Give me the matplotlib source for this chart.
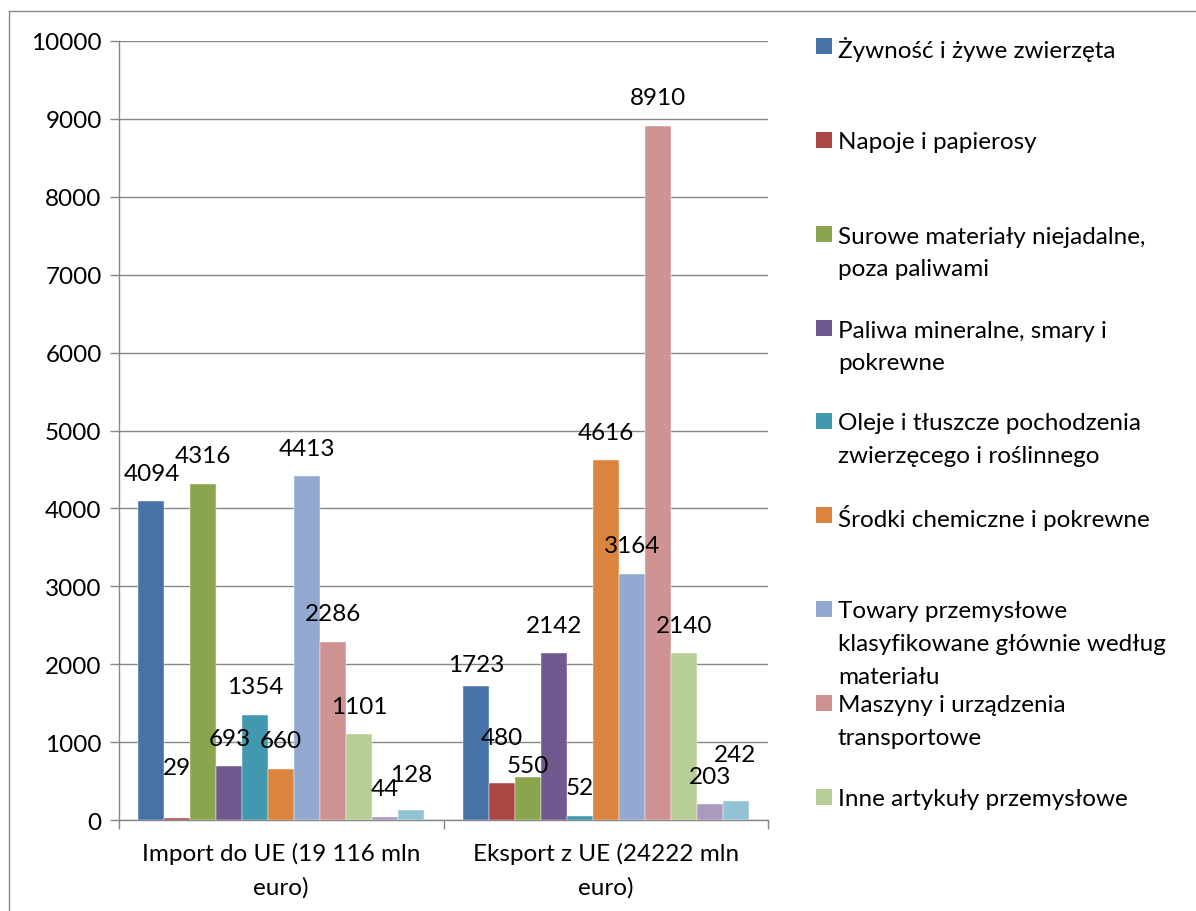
import matplotlib
matplotlib.use("Agg")
import matplotlib.pyplot as plt
from matplotlib.lines import Line2D
from matplotlib.patches import Rectangle
import numpy as np

plt.rcParams['font.family'] = ['Lato', 'DejaVu Sans']

categories = ["Import do UE (19 116 mln\neuro)", "Eksport z UE (24222 mln\neuro)"]
series_names = [
    "Żywność i żywe zwierzęta",
    "Napoje i papierosy",
    "Surowe materiały niejadalne,\npoza paliwami",
    "Paliwa mineralne, smary i\npokrewne",
    "Oleje i tłuszcze pochodzenia\nzwierzęcego i roślinnego",
    "Środki chemiczne i pokrewne",
    "Towary przemysłowe\nklasyfikowane głównie według\nmateriału",
    "Maszyny i urządzenia\ntransportowe",
    "Inne artykuły przemysłowe",
    "Towary i transakcje niesklasyfikowane",
    "Pozostałe",
]
import_values = [4094, 29, 4316, 693, 1354, 660, 4413, 2286, 1101, 44, 128]
export_values = [1723, 480, 550, 2142, 52, 4616, 3164, 8910, 2140, 203, 242]
y_ticks = [0, 1000, 2000, 3000, 4000, 5000, 6000, 7000, 8000, 9000, 10000]

colors = ["#4672A8", "#AA4744", "#89A54E", "#71588F", "#4198AF", "#DB843D",
          "#93A9D0", "#D09393", "#B9CD97", "#A99BBE", "#92C3D5"]

FS = 17.5
W, H = 1196, 912
fig = plt.figure(figsize=(W / 100, H / 100), dpi=100)

def fx(px):
    return px / W

def fy(py):
    return 1 - py / H

# outer chart border (clipped at right/bottom)
border_col = "#8a8a8a"
fig.add_artist(Line2D([fx(9), fx(9)], [fy(12), 0], color=border_col, lw=1.0))
fig.add_artist(Line2D([fx(9), 1], [fy(12), fy(12)], color=border_col, lw=1.0))

ax = fig.add_axes([fx(119), fy(821), fx(768) - fx(119), fy(42) - fy(821)])

n = len(series_names)
bw = 1.0 / (n + 1.5)
values = [import_values, export_values]
centers = np.array([0.5, 1.5])

# label nudges (pixels) for overlapping labels: (group, series) -> extra offset
nudges = {(0, 1): 22, (0, 10): 8, (1, 0): -7, (1, 1): 17, (1, 2): -16, (1, 10): 19}

for s in range(n):
    vals = [values[g][s] for g in range(2)]
    xs = centers + (s - (n - 1) / 2) * bw
    ax.bar(xs, vals, width=bw, color=colors[s], edgecolor="white", linewidth=0.3, zorder=3)
    for g in range(2):
        off = 28 + nudges.get((g, s), 0)
        ax.annotate(str(vals[g]), (xs[g], vals[g]), xytext=(0, off),
                    textcoords="offset pixels", ha="center", va="center",
                    fontsize=FS, color="black", zorder=5)

ax.set_xlim(0, 2)
ax.set_ylim(0, 10000)
ax.set_yticks(y_ticks)
ax.set_yticklabels([str(t) for t in y_ticks])
ax.set_xticks([0, 1, 2])
ax.set_xticklabels([])
ax.set_xticks(centers, minor=True)
ax.set_xticklabels(categories, minor=True, fontsize=FS, linespacing=1.68)
ax.tick_params(axis="x", which="minor", length=0, pad=16)
ax.tick_params(axis="x", which="major", length=6.5, width=1.0, color="#868686", direction="out")
ax.tick_params(axis="y", length=6.5, width=1.0, color="#868686", labelsize=FS, pad=6)

ax.grid(axis="y", color="#868686", linewidth=1.0, zorder=0)
for sp in ["top", "right"]:
    ax.spines[sp].set_visible(False)
for sp in ["left", "bottom"]:
    ax.spines[sp].set_color("#868686")
    ax.spines[sp].set_linewidth(1.0)

# legend drawn manually (only visible entries)
leg_y = [47, 141, 235, 329, 422, 516, 610, 704, 798]
for i, yc in enumerate(leg_y):
    fig.add_artist(Rectangle((fx(816), fy(yc + 8)), fx(16), 16 / H,
                             facecolor=colors[i], edgecolor="none", transform=fig.transFigure))
    for j, line in enumerate(series_names[i].split("\n")):
        fig.text(fx(838), fy(yc + j * 32.5), line, fontsize=FS, ha="left", va="center_baseline")

fig.savefig("out.png", dpi=100)
